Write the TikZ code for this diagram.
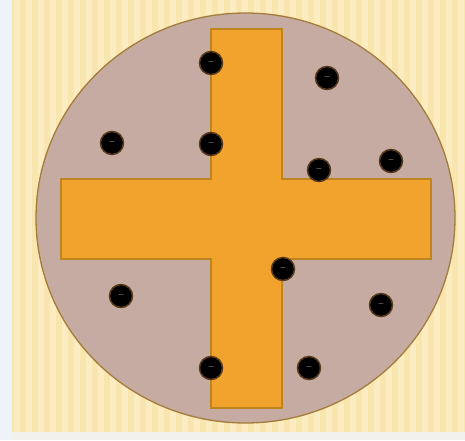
\documentclass[tikz,border=0pt]{standalone}
\begin{document}
\begin{tikzpicture}[x=1pt,y=-1pt,
  electron/.style={circle,fill=black,minimum size=23pt,inner sep=0pt,
    draw=halo,line width=1.5pt,text=white!85!gray,
    font=\fontsize{8}{8}\selectfont\bfseries},
  disc/.style={fill=discfill,draw=discedge,line width=1.3pt},
  crossbar/.style={fill=crossfill,draw=crossedge,line width=1.2pt}]
\definecolor{sidebg}{HTML}{EEF3F9}
\definecolor{stripeA}{HTML}{F8E6AE}
\definecolor{stripeB}{HTML}{FFF4D2}
\definecolor{discfill}{HTML}{C5ABA1}
\definecolor{discedge}{HTML}{A47C3C}
\definecolor{crossfill}{HTML}{F1A32E}
\definecolor{crossedge}{HTML}{BE8420}
\definecolor{bottombg}{HTML}{F3F1EC}
\definecolor{halo}{HTML}{5A3A1C}
\useasboundingbox (0,0) rectangle (465,440);
% backgrounds
\fill[sidebg] (0,0) rectangle (465,440);
\fill[stripeA] (12,0) rectangle (465,432);
\foreach \i in {0,...,37}{
  \fill[stripeB,opacity=0.55] ({14+\i*12},0) rectangle ({20+\i*12},432);
}
\fill[bottombg] (12,432) rectangle (465,440);
% disc
\path[disc] (245.5,218) ellipse [x radius=209.5, y radius=205];
% cross
\path[crossbar] (211,29) -- (282,29) -- (282,179) -- (431,179) -- (431,259)
  -- (282,259) -- (282,408) -- (211,408) -- (211,259) -- (61,259)
  -- (61,179) -- (211,179) -- cycle;
% electrons
\node[electron] (d1)  at (211,63)  {--};
\node[electron] (d2)  at (211,144) {--};
\node[electron] (d3)  at (112,143) {--};
\node[electron] (d4)  at (327,78)  {--};
\node[electron] (d5)  at (319,170) {--};
\node[electron] (d6)  at (391,161) {--};
\node[electron] (d7)  at (283,269) {--};
\node[electron] (d8)  at (121,296) {--};
\node[electron] (d9)  at (381,305) {--};
\node[electron] (d10) at (211,368) {--};
\node[electron] (d11) at (309,368) {--};
\end{tikzpicture}
\end{document}
